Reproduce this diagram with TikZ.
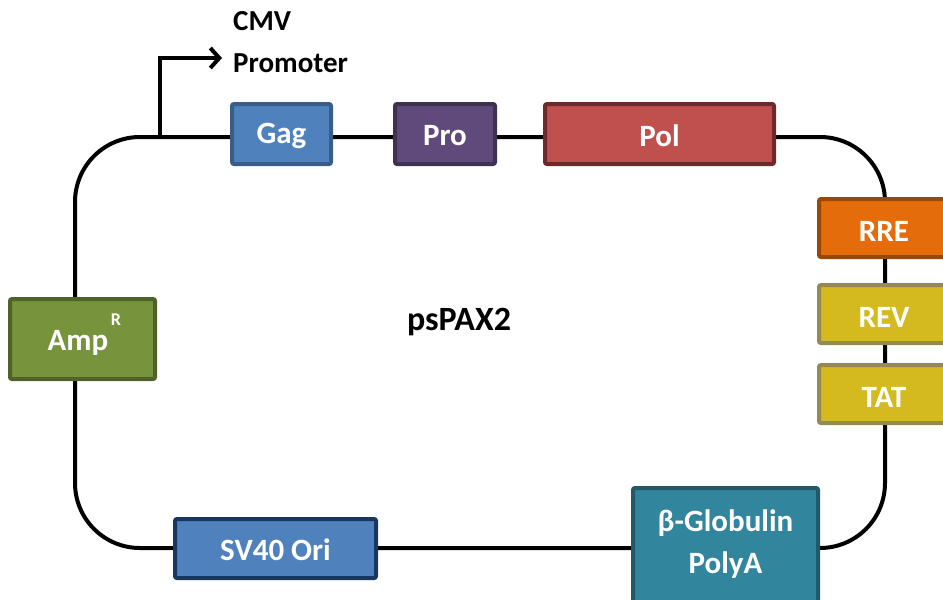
\documentclass[tikz,border=0pt]{standalone}
\usepackage{fontspec}
\setmainfont{Carlito}
\usetikzlibrary{arrows.meta}
\definecolor{gagF}{HTML}{4F81BD}\definecolor{gagD}{HTML}{385D8A}
\definecolor{svD}{HTML}{17375E}
\definecolor{proF}{HTML}{604A7B}\definecolor{proD}{HTML}{3F3151}
\definecolor{polF}{HTML}{C0504D}\definecolor{polD}{HTML}{6E2A2A}
\definecolor{rreF}{HTML}{E46C0A}\definecolor{rreD}{HTML}{984807}
\definecolor{revF}{HTML}{D4BA1F}\definecolor{revD}{HTML}{948A54}
\definecolor{glbF}{HTML}{31859C}\definecolor{glbD}{HTML}{215968}
\definecolor{ampF}{HTML}{77933C}\definecolor{ampD}{HTML}{4F6228}
\tikzset{
  gene/.style={draw, line width=4pt, rounded corners=2pt, inner sep=0pt,
    text=white, font=\fontsize{31}{36}\selectfont\bfseries, align=center},
  gtext/.style={text=white, font=\fontsize{31}{42}\selectfont\bfseries, align=center, inner sep=0pt},
  loopline/.style={line width=4pt, rounded corners=65pt},
  lbl/.style={font=\fontsize{29}{42}\selectfont\bfseries, inner sep=0pt}
}
\begin{document}
\begin{tikzpicture}[x=1pt,y=-1pt]
\useasboundingbox (0,0) rectangle (943,600);
\clip (0,0) rectangle (943,600);
% backbone
\draw[loopline] (75,137) rectangle (885,548);
% promoter arrow
\coordinate (pb) at (160,137);
\coordinate (pt) at (160,58);
\coordinate (pa) at (222,58);
\draw[line width=4pt, -{Straight Barb[length=9pt,width=20pt,line width=4pt]}] (pb) -- (pt) -- (pa);
\node[lbl, anchor=west, align=left] (cmv) at (233,42) {CMV\\Promoter};
% genes
\node[gene, fill=gagF, draw=gagD, minimum width=99pt, minimum height=60pt] (gag) at (281.5,134) {};
\node[gtext] (gagt) at (281.5,136) {Gag};
\node[gene, fill=proF, draw=proD, minimum width=100pt, minimum height=60pt] (pro) at (445,134) {};
\node[gtext] (prot) at (445,136) {Pro};
\node[gene, fill=polF, draw=polD, minimum width=229pt, minimum height=60pt] (pol) at (659.5,134) {};
\node[gtext] (polt) at (659.5,136) {Pol};
\node[gene, fill=rreF, draw=rreD, minimum width=150pt, minimum height=58pt] (rre) at (894,228) {};
\node[gene, fill=revF, draw=revD, minimum width=150pt, minimum height=58pt] (rev) at (894,314) {};
\node[gene, fill=revF, draw=revD, minimum width=150pt, minimum height=58pt] (tat) at (894,394) {};
\node[gtext] (rret) at (884,231) {RRE};
\node[gtext] (revt) at (884,317) {REV};
\node[gtext] (tatt) at (884,397) {TAT};
\node[gene, fill=glbF, draw=glbD, minimum width=185pt, minimum height=120pt] (glb) at (725.5,548) {};
\node[gtext] (glbt) at (725.5,544) {β-Globulin\\PolyA};
\node[gene, fill=gagF, draw=svD, minimum width=201pt, minimum height=59pt] (sv) at (275.5,548.5) {};
\node[gtext] (svt) at (275.5,550) {SV40 Ori};
\node[gene, fill=ampF, draw=ampD, minimum width=145pt, minimum height=80pt] (amp) at (82.5,339) {};
\node[gtext] (ampt) at (78,343) {Amp};
\node[text=white, font=\fontsize{18}{20}\selectfont\bfseries, inner sep=0pt] (ampr) at (116,320) {R};
\node[font=\fontsize{34}{40}\selectfont\bfseries, inner sep=0pt] (name) at (459,322) {psPAX2};
\end{tikzpicture}
\end{document}
